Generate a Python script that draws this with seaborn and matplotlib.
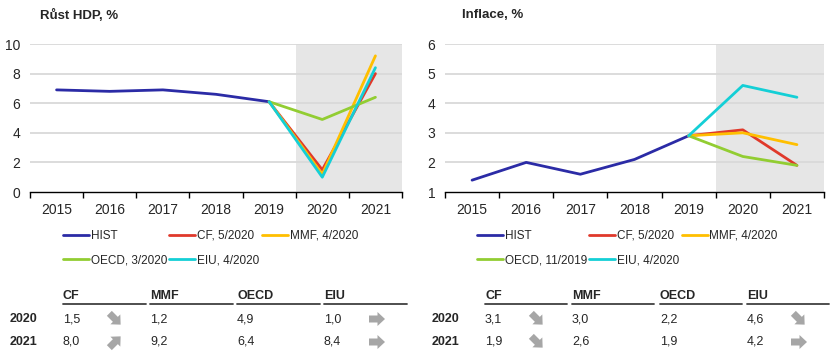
import numpy as np
import pandas as pd
import seaborn as sns
import matplotlib.pyplot as plt
from matplotlib.lines import Line2D
from matplotlib.patches import Polygon

years = [2015, 2016, 2017, 2018, 2019, 2020, 2021]
hist_years = [2015, 2016, 2017, 2018, 2019]
fc_years = [2019, 2020, 2021]

gdp_hist = [6.9, 6.8, 6.9, 6.6, 6.1]
gdp_cf = [6.1, 1.5, 8.0]
gdp_mmf = [6.1, 1.2, 9.2]
gdp_oecd = [6.1, 4.9, 6.4]
gdp_eiu = [6.1, 1.0, 8.4]

inf_hist = [1.4, 2.0, 1.6, 2.1, 2.9]
inf_cf = [2.9, 3.1, 1.9]
inf_mmf = [2.9, 3.0, 2.6]
inf_oecd = [2.9, 2.2, 1.9]
inf_eiu = [2.9, 4.6, 4.2]

gdp_labels = ["HIST", "CF, 5/2020", "MMF, 4/2020", "OECD, 3/2020", "EIU, 4/2020"]
inf_labels = ["HIST", "CF, 5/2020", "MMF, 4/2020", "OECD, 11/2019", "EIU, 4/2020"]
colors = ["#2b2ba6", "#e0392b", "#ffbf00", "#92cd32", "#14cfd6"]

table_heads = ["CF", "MMF", "OECD", "EIU"]
gdp_table = [["1,5", "1,2", "4,9", "1,0"], ["8,0", "9,2", "6,4", "8,4"]]
inf_table = [["3,1", "3,0", "2,2", "4,6"], ["1,9", "2,6", "1,9", "4,2"]]
row_labels = ["2020", "2021"]
# arrow directions in degrees (0 = right) for CF and EIU
gdp_arrows = [[-45, 0], [45, 0]]
inf_arrows = [[-45, -45], [-45, 0]]

sns.set_style("white")
plt.rcParams["font.family"] = ["Liberation Sans", "DejaVu Sans"]

W, H = 835, 359
fig = plt.figure(figsize=(W / 100, H / 100), dpi=100)


def fx(px):
    return px / W


def fy(py):
    return 1 - py / H


# block arrow outline in pixels, pointing right, centred on 0
arrow_shape = np.array([[-8, -3.5], [0.5, -3.5], [0.5, -7], [8, 0],
                        [0.5, 7], [0.5, 3.5], [-8, 3.5]])


def block_arrow(cx, cy, angle):
    a = np.deg2rad(angle)
    rot = np.array([[np.cos(a), -np.sin(a)], [np.sin(a), np.cos(a)]])
    pts = arrow_shape @ rot.T
    pts = np.column_stack([fx(cx + pts[:, 0]), fy(cy - pts[:, 1])])
    fig.add_artist(Polygon(pts, closed=True, color="#a6a6a6", lw=0))


def make_df(labels, hist, series):
    rows = []
    for y, v in zip(hist_years, hist):
        rows.append((labels[0], y, v))
    for lab, vals in zip(labels[1:], series):
        for y, v in zip(fc_years, vals):
            rows.append((lab, y, v))
    return pd.DataFrame(rows, columns=["serie", "rok", "hodnota"])


def panel(x0, x1, title, title_x, labels, hist, series, ylim, yticks,
          leg_x, head_x, row_x, arrow_x, table, arrows, underline_w):
    ax = fig.add_axes([fx(x0), fy(192), fx(x1 - x0), (192 - 44) / H])
    df = make_df(labels, hist, series)
    ax.axvspan(2019.5, 2021.5, color="#e6e6e6", lw=0, zorder=0)
    for yt in yticks[1:]:
        ax.axhline(yt, color="#d9d9d9", lw=1.3, zorder=0.5)
    sns.lineplot(data=df, x="rok", y="hodnota", hue="serie", hue_order=labels,
                 palette=colors, lw=2, sort=False, ax=ax, zorder=3)
    ax.set_xlim(2014.5, 2021.5)
    ax.set_ylim(*ylim)
    ax.set_xticks(years)
    ax.set_xticklabels([str(y) for y in years], fontsize=10)
    ax.set_xticks([y - 0.5 for y in years] + [2021.5], minor=True)
    ax.tick_params(axis="x", which="major", length=0, pad=8)
    ax.tick_params(axis="x", which="minor", length=4, width=1, color="black",
                   direction="out", bottom=True)
    ax.set_yticks(yticks)
    ax.tick_params(axis="y", length=0, labelsize=10, pad=7)
    ax.set_xlabel("")
    ax.set_ylabel("")
    for s in ["top", "right", "left"]:
        ax.spines[s].set_visible(False)
    ax.spines["bottom"].set_color("black")
    ax.spines["bottom"].set_linewidth(1)
    fig.text(fx(title_x), fy(15), title, fontsize=9.5, fontweight="bold",
             va="center", ha="left")

    handles, labs = ax.get_legend_handles_labels()
    ax.get_legend().remove()
    order = [0, 3, 1, 4, 2]
    ax.legend([handles[i] for i in order], [labs[i] for i in order], ncol=3,
              loc="upper left", bbox_to_anchor=(fx(leg_x), fy(230)),
              bbox_transform=fig.transFigure, frameon=False, fontsize=8.5,
              handlelength=2.2, handletextpad=0.15, columnspacing=0.2,
              labelspacing=1.05, borderpad=0, borderaxespad=0)

    for i, h in enumerate(table_heads):
        fig.text(fx(head_x[i]), fy(296), h, fontsize=9, fontweight="bold",
                 va="center", ha="left")
        fig.add_artist(Line2D([fx(head_x[i]), fx(head_x[i] + underline_w)],
                              [fy(304), fy(304)], color="#404040", lw=1.3))
    for r, ry in enumerate([319, 342]):
        fig.text(fx(row_x), fy(ry), row_labels[r], fontsize=9, fontweight="bold",
                 va="center", ha="left")
        for i in range(4):
            fig.text(fx(head_x[i]), fy(ry), table[r][i], fontsize=9,
                     va="center", ha="left")
        for j, axx in enumerate(arrow_x):
            block_arrow(axx, ry, arrows[r][j])
    return ax


panel(30, 402, "Růst HDP, %", 40, gdp_labels, gdp_hist,
      [gdp_cf, gdp_mmf, gdp_oecd, gdp_eiu], (0, 10), [0, 2, 4, 6, 8, 10],
      63, [63, 150, 237, 324], 10, [115, 377], gdp_table, gdp_arrows, 83)

panel(445, 824, "Inflace, %", 462, inf_labels, inf_hist,
      [inf_cf, inf_mmf, inf_oecd, inf_eiu], (1, 6), [1, 2, 3, 4, 5, 6],
      477, [485, 572, 660, 747], 432, [537, 799], inf_table, inf_arrows, 82)

fig.savefig("out.png", dpi=100)
